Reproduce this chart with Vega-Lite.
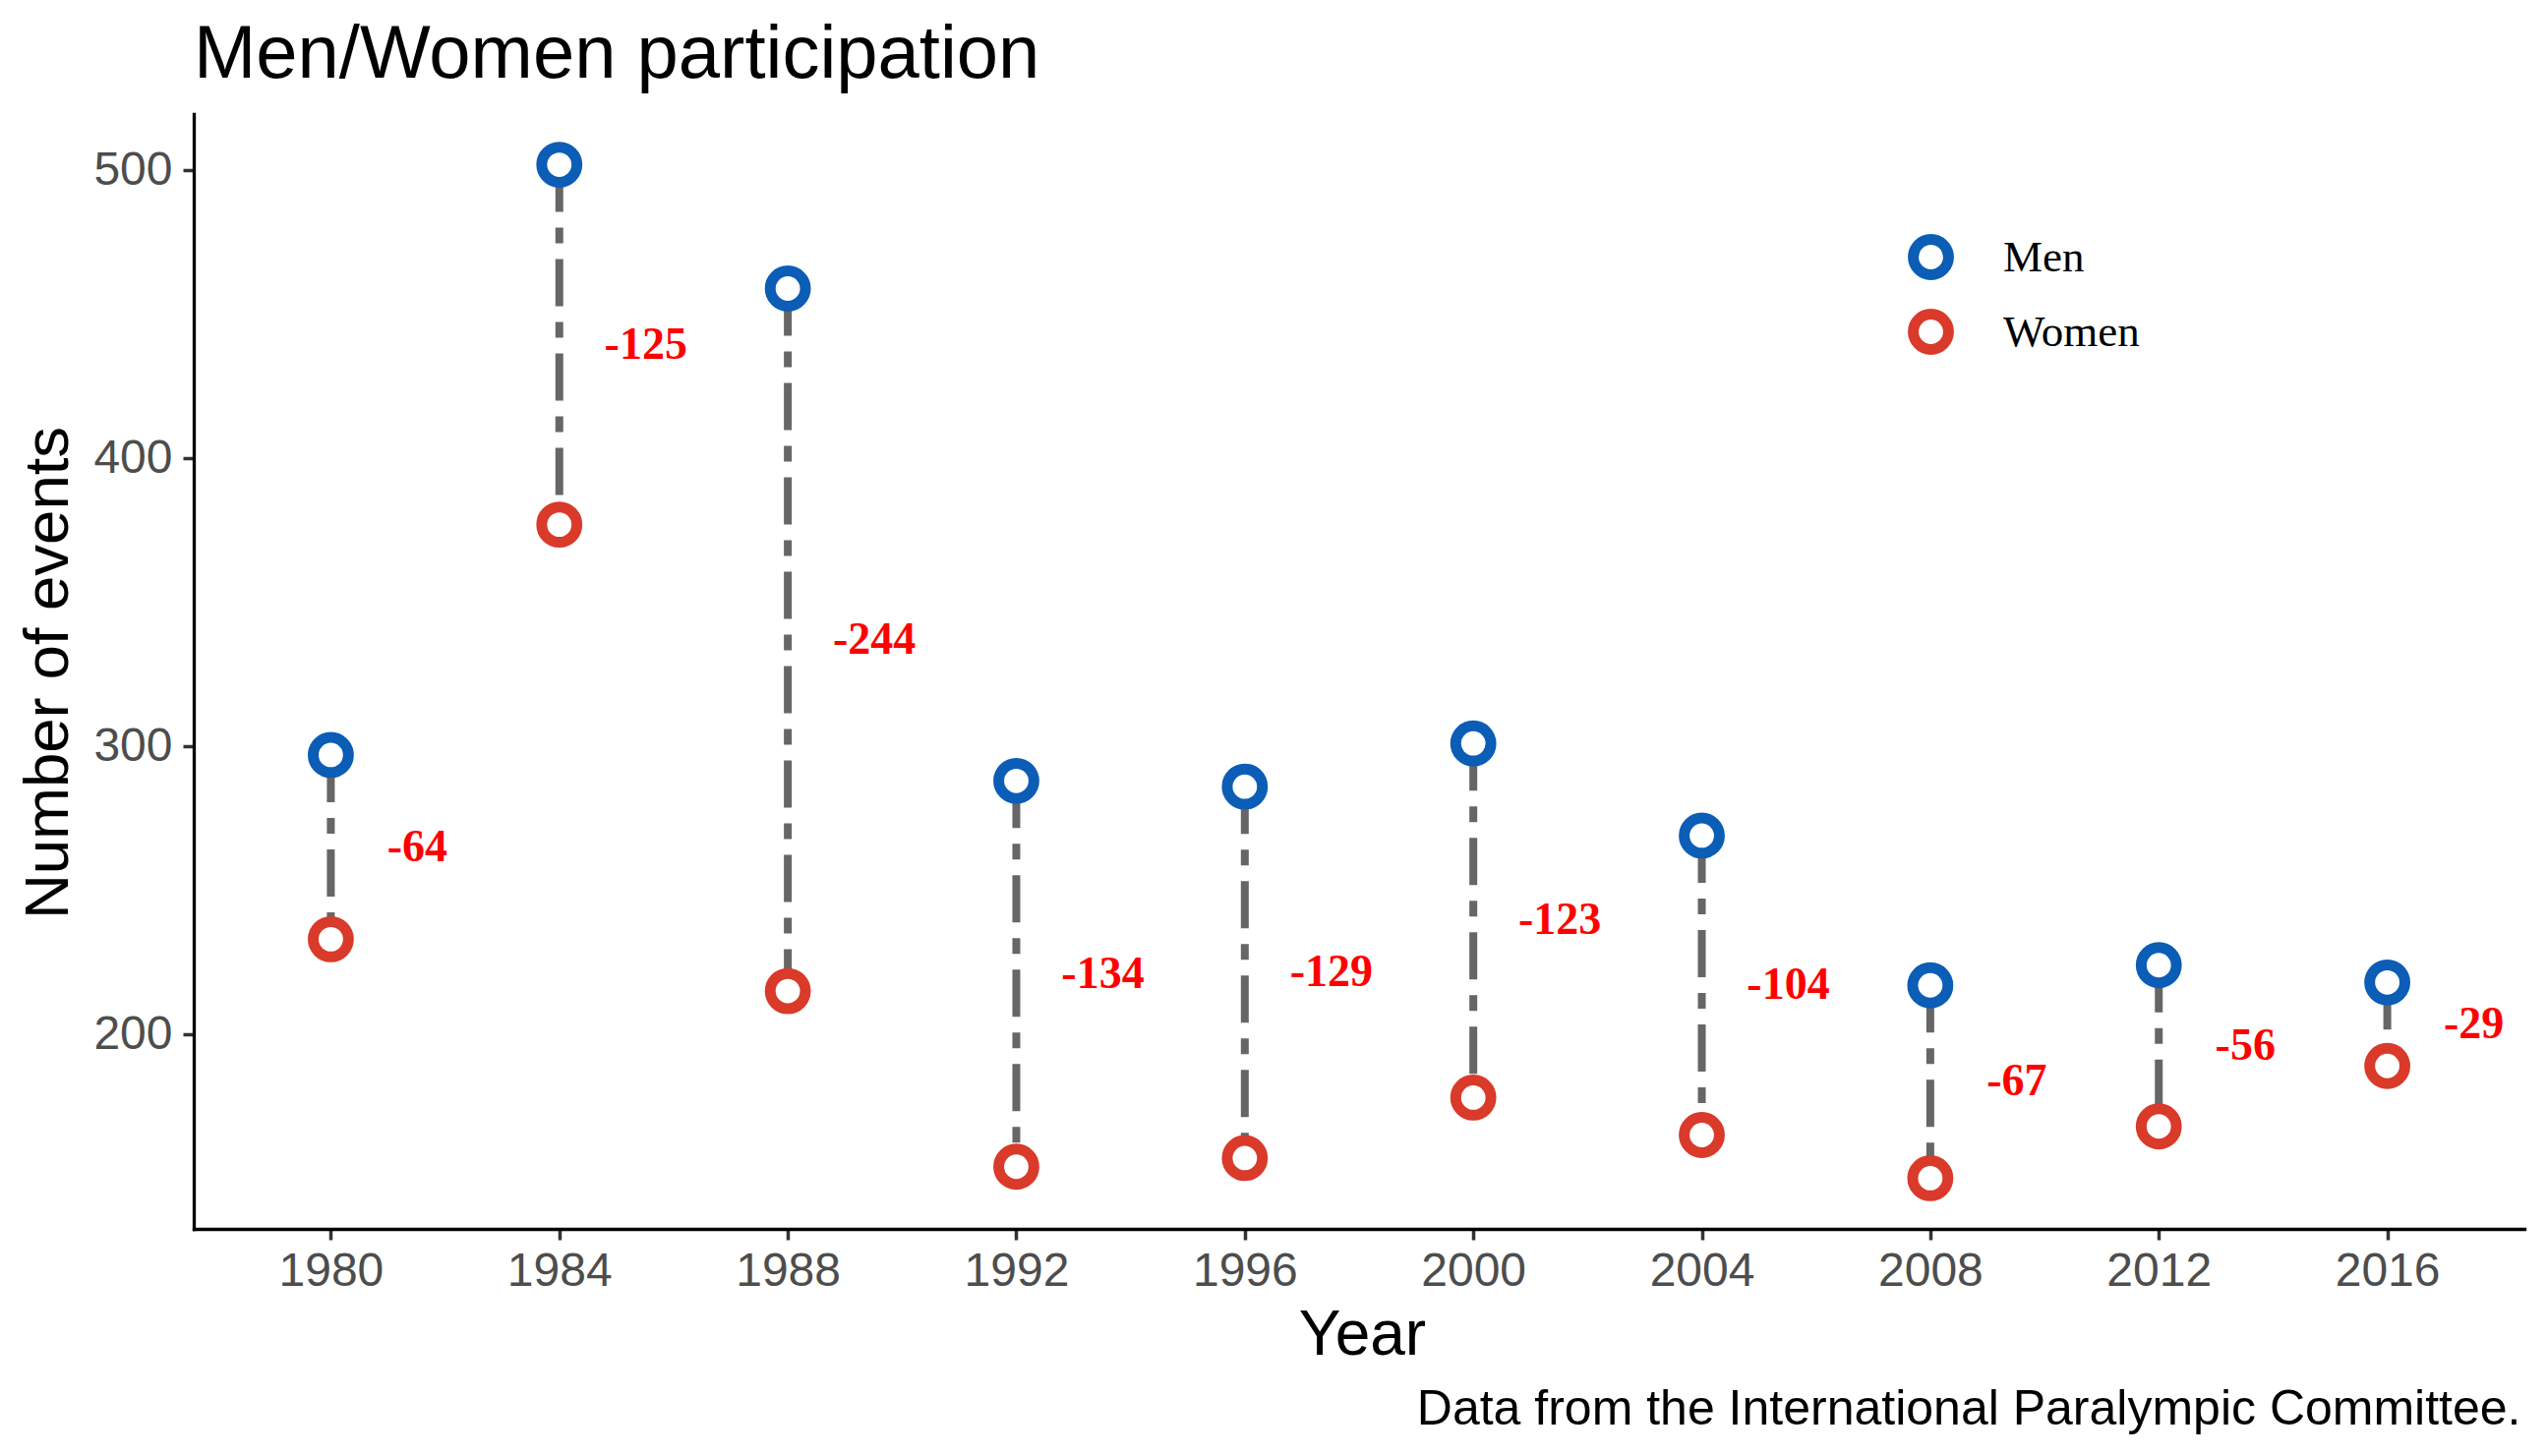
{
  "$schema": "https://vega.github.io/schema/vega-lite/v6.json",
  "width": 2370,
  "height": 1134,
  "autosize": {"type": "none"},
  "padding": {"left": 197, "top": 116, "right": 23, "bottom": 231},
  "background": "white",
  "title": {
    "text": "Men/Women participation",
    "anchor": "start",
    "frame": "group",
    "font": "Liberation Sans",
    "fontSize": 76,
    "fontWeight": "normal",
    "color": "black",
    "baseline": "alphabetic",
    "offset": 26,
    "dy": 65
  },
  "data": {
    "values": [
      {"year": 1980, "Men": 297, "Women": 233, "diff": -64},
      {"year": 1984, "Men": 502, "Women": 377, "diff": -125},
      {"year": 1988, "Men": 459, "Women": 215, "diff": -244},
      {"year": 1992, "Men": 288, "Women": 154, "diff": -134},
      {"year": 1996, "Men": 286, "Women": 157, "diff": -129},
      {"year": 2000, "Men": 301, "Women": 178, "diff": -123},
      {"year": 2004, "Men": 269, "Women": 165, "diff": -104},
      {"year": 2008, "Men": 217, "Women": 150, "diff": -67},
      {"year": 2012, "Men": 224, "Women": 168, "diff": -56},
      {"year": 2016, "Men": 218, "Women": 189, "diff": -29}
    ]
  },
  "layer": [
    {
      "mark": {"type": "rule", "color": "#666666", "strokeWidth": 8, "strokeDash": [48, 16, 16, 16], "strokeCap": "butt"},
      "encoding": {
        "x": {
          "field": "year", "type": "ordinal", "title": "Year",
          "scale": {"type": "point", "padding": 0.6},
          "axis": {
            "orient": "bottom", "labelAngle": 0, "labelFontSize": 48, "labelFont": "Liberation Sans",
            "labelColor": "#4D4D4D", "labelPadding": 8, "tickSize": 11, "tickWidth": 3.5, "tickColor": "#333333",
            "domainColor": "black", "domainWidth": 3.3, "domainCap": "square", "grid": false,
            "titleFont": "Liberation Sans", "titleFontSize": 64, "titleFontWeight": "normal", "titleColor": "black",
            "titleX": 1188, "titleY": 127, "titleBaseline": "alphabetic", "titleAlign": "center"
          }
        },
        "y": {
          "field": "Men", "type": "quantitative", "title": "Number of events",
          "scale": {"domain": [132.4, 519.6], "nice": false, "zero": false},
          "axis": {
            "values": [200, 300, 400, 500], "labelFontSize": 48, "labelFont": "Liberation Sans",
            "labelColor": "#4D4D4D", "labelPadding": 11, "tickSize": 11, "tickWidth": 3.5, "tickColor": "#333333",
            "domainColor": "black", "domainWidth": 3.3, "domainCap": "square", "grid": false,
            "titleFont": "Liberation Sans", "titleFontSize": 63.5, "titleFontWeight": "normal", "titleColor": "black",
            "titleAngle": -90, "titleX": -129, "titleY": 568, "titleBaseline": "alphabetic", "titleAlign": "center"
          }
        },
        "y2": {"field": "Women"}
      }
    },
    {
      "transform": [{"fold": ["Men", "Women"], "as": ["gender", "value"]}],
      "mark": {"type": "point", "shape": "circle", "filled": false, "fill": "white", "fillOpacity": 1, "opacity": 1, "strokeWidth": 11, "size": 1282},
      "encoding": {
        "x": {"field": "year", "type": "ordinal", "title": "Year", "axis": null},
        "y": {"field": "value", "type": "quantitative", "title": "Number of events"},
        "color": {
          "field": "gender", "type": "nominal",
          "scale": {"domain": ["Men", "Women"], "range": ["#0b5db6", "#d93a2a"]},
          "legend": {
            "title": null, "orient": "none", "legendX": 1743, "legendY": 122,
            "symbolType": "circle", "symbolSize": 1282, "symbolStrokeWidth": 11, "symbolFillColor": "white",
            "labelFont": "Liberation Serif", "labelFontSize": 45, "labelColor": "black", "labelOffset": 50,
            "rowPadding": -5, "padding": 0
          }
        }
      }
    },
    {
      "transform": [{"fold": ["Men", "Women"], "as": ["gender", "value"]}],
      "mark": {"type": "text", "font": "Liberation Serif", "fontWeight": "bold", "fontSize": 46, "color": "#FF0000", "dx": 88, "align": "center", "baseline": "middle"},
      "encoding": {
        "x": {
          "field": "year", "type": "ordinal", "title": "Data from the International Paralympic Committee.",
          "axis": {
            "orient": "top", "labels": false, "ticks": false, "domain": false, "grid": false,
            "titleFont": "Liberation Sans", "titleFontSize": 50, "titleFontWeight": "normal", "titleColor": "black",
            "titleX": 2366, "titleY": 1332, "titleAlign": "right", "titleBaseline": "alphabetic", "titleAngle": 0
          }
        },
        "y": {"aggregate": "mean", "field": "value", "type": "quantitative", "title": "Number of events"},
        "text": {"field": "diff", "type": "nominal"}
      }
    }
  ],
  "resolve": {"axis": {"x": "independent"}},
  "config": {"view": {"stroke": null}}
}
